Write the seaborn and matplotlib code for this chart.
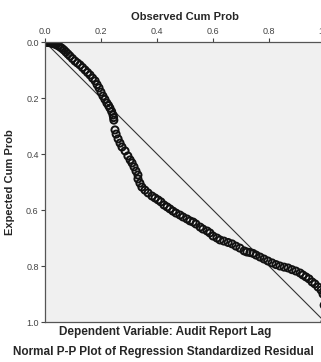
import numpy as np
import pandas as pd
import seaborn as sns
import matplotlib
matplotlib.use("Agg")
import matplotlib.pyplot as plt

# Observed / expected cumulative probabilities
observed_cum_prob = [
    0.000, 0.004, 0.007, 0.011, 0.014, 0.018, 0.021, 0.025, 0.029, 0.032, 0.036, 0.039,
    0.046, 0.054, 0.061, 0.068, 0.075, 0.082, 0.089, 0.098, 0.107, 0.116, 0.125, 0.134,
    0.143, 0.152, 0.161, 0.170, 0.179, 0.186, 0.193, 0.200, 0.207, 0.214, 0.221, 0.227,
    0.232, 0.238, 0.243, 0.245, 0.246,
    0.250, 0.254, 0.261, 0.268, 0.275, 0.286, 0.296, 0.304, 0.311, 0.318, 0.325, 0.332,
    0.332, 0.339, 0.346, 0.357, 0.368, 0.382,
    0.393, 0.404, 0.414, 0.425, 0.436, 0.446, 0.457, 0.468, 0.482, 0.493, 0.507, 0.518,
    0.529, 0.539, 0.554, 0.564, 0.579, 0.589, 0.600, 0.614, 0.625, 0.639, 0.654, 0.668,
    0.682, 0.696, 0.711, 0.721, 0.732, 0.743, 0.754, 0.768, 0.782, 0.796, 0.811, 0.825,
    0.839, 0.854, 0.868, 0.882, 0.896, 0.911, 0.921, 0.932, 0.943, 0.954, 0.964, 0.975,
    0.986, 0.993, 0.997, 1.000,
]
expected_cum_prob = [
    0.000, 0.000, 0.001, 0.001, 0.002, 0.002, 0.003, 0.004, 0.005, 0.006, 0.007, 0.009,
    0.013, 0.018, 0.023, 0.029, 0.036, 0.043, 0.050, 0.059, 0.068, 0.075, 0.082, 0.091,
    0.100, 0.109, 0.118, 0.129, 0.139, 0.152, 0.164, 0.179, 0.193, 0.205, 0.218, 0.227,
    0.236, 0.248, 0.261, 0.270, 0.279,
    0.314, 0.329, 0.346, 0.361, 0.375, 0.389, 0.407, 0.421, 0.432, 0.446, 0.461, 0.475,
    0.489, 0.504, 0.518, 0.529, 0.539, 0.550,
    0.557, 0.564, 0.571, 0.582, 0.589, 0.596, 0.604, 0.611, 0.618, 0.625, 0.632, 0.639,
    0.643, 0.650, 0.661, 0.668, 0.675, 0.682, 0.693, 0.700, 0.707, 0.711, 0.716, 0.721,
    0.729, 0.736, 0.746, 0.750, 0.752, 0.755, 0.761, 0.768, 0.775, 0.782, 0.789, 0.795,
    0.800, 0.804, 0.807, 0.813, 0.818, 0.825, 0.832, 0.839, 0.846, 0.857, 0.864, 0.875,
    0.886, 0.900, 0.940, 1.000,
]
tick_values = [0.0, 0.2, 0.4, 0.6, 0.8, 1.0]
tick_labels = ["0.0", "0.2", "0.4", "0.6", "0.8", "1.0"]

df = pd.DataFrame({"observed": observed_cum_prob, "expected": expected_cum_prob})

sns.set_style("ticks")
plt.rcParams["font.family"] = ["Liberation Sans", "DejaVu Sans"]

fig = plt.figure(figsize=(3.21, 3.62), dpi=100)
# plot area runs a little past the right edge, like the cropped reference
ax = fig.add_axes([45 / 321, 40 / 362, 280 / 321, 280 / 362])
ax.set_facecolor("#f0f0f0")

ax.axline((0, 0), slope=1, color="#333333", lw=0.8, zorder=1)
sns.scatterplot(data=df, x="observed", y="expected", ax=ax, marker="o",
                s=26, facecolor="none", edgecolor="#111111", linewidth=1.4, zorder=2)

ax.set_xlim(0, 1)
ax.set_ylim(1, 0)
ax.xaxis.tick_top()
ax.xaxis.set_label_position("top")
ax.set_xticks(tick_values)
ax.set_xticklabels(tick_labels)
ax.set_yticks(tick_values)
ax.set_yticklabels(tick_labels)
ax.tick_params(labelsize=6.5, length=3, width=0.8, pad=1.5, colors="#444444")

for spine in ax.spines.values():
    spine.set_visible(True)
    spine.set_color("#555555")
    spine.set_linewidth(0.9)

ax.set_xlabel("Observed Cum Prob", fontsize=8, fontweight="bold", labelpad=5)
ax.set_ylabel("Expected Cum Prob", fontsize=8, fontweight="bold", labelpad=8)

fig.text(165 / 321, 1 - 332 / 362, "Dependent Variable: Audit Report Lag",
         ha="center", va="center", fontsize=8.5, fontweight="bold")
fig.text(163 / 321, 1 - 352 / 362, "Normal P-P Plot of Regression Standardized Residual",
         ha="center", va="center", fontsize=8.5, fontweight="bold")

fig.savefig("out.png", dpi=100)
